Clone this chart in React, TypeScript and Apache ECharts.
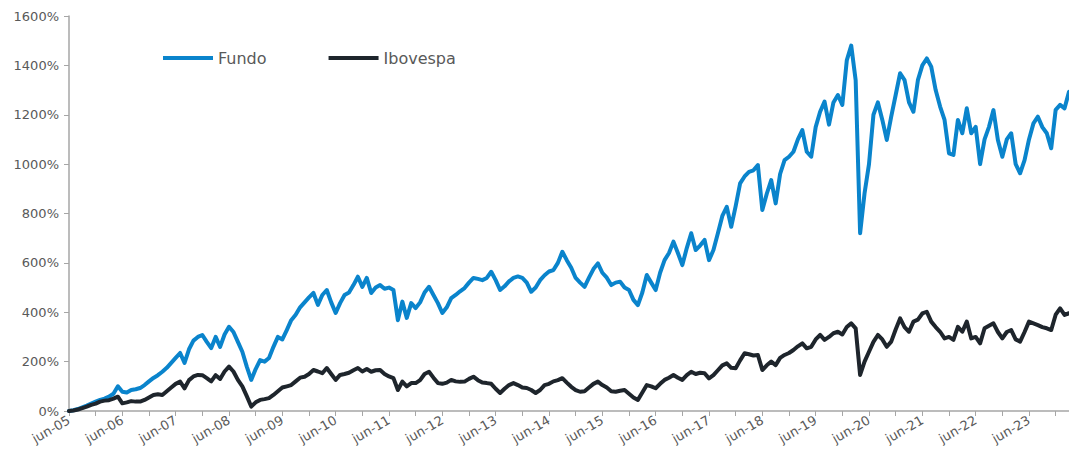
import React, { useEffect, useRef } from "react";
import * as echarts from "echarts";

// monthly values, month 0 = jun-05
const fundo: number[] = [
  0, 3, 8, 15, 22, 30, 38, 45, 50, 58, 70, 100,
  78, 75, 85, 88, 93, 105, 120, 134, 145, 159, 175, 195,
  215, 235, 195, 250, 285, 300, 308, 280, 255, 300, 260, 310,
  341, 320, 280, 240, 180, 126, 170, 206, 200, 215, 260, 300,
  290, 328, 368, 390, 420, 440, 460, 478, 430, 470, 490, 440,
  397, 437, 470, 480, 510, 544, 503, 539, 478, 500, 510, 495,
  500, 490, 368, 443, 377, 437, 417, 440, 480, 503, 470, 437,
  397, 420, 457, 470, 485, 498, 520, 539, 535, 530, 539, 564,
  530, 490, 505, 525, 539, 545, 539, 520, 483, 500, 530, 550,
  565, 571, 600, 645, 611, 580, 539, 520, 503, 540, 575, 598,
  560, 540, 510, 520, 524, 500, 490, 450, 429, 480, 551, 520,
  490, 560, 611, 640, 686, 640, 591, 660, 720, 652, 670, 693,
  611, 652, 720, 790, 827, 746, 830, 922, 950, 969, 975, 996,
  814, 880, 935, 841, 960, 1016, 1030, 1050, 1100, 1138, 1050, 1030,
  1150, 1212, 1253, 1160, 1250, 1280, 1240, 1420, 1480, 1340, 720, 882,
  1000, 1200, 1250, 1179, 1098, 1192, 1280, 1368, 1340, 1250, 1212, 1340,
  1400, 1428, 1395, 1300, 1233, 1179, 1044, 1037, 1179, 1125, 1226, 1125,
  1151, 1000, 1100, 1151, 1219, 1098, 1030, 1100, 1125, 1000, 963, 1016,
  1100, 1165, 1192, 1150, 1125, 1064, 1220, 1240, 1226, 1293,
];

const ibovespa: number[] = [
  0, 2, 6, 12, 18, 25, 30, 38, 42, 44, 50, 58,
  31, 35, 40, 38, 38, 45, 55, 65, 68, 65, 80, 95,
  110, 119, 92, 125, 140, 146, 145, 133, 120, 145, 130, 160,
  180, 160, 126, 100, 60, 18, 35, 45, 48, 52, 65, 80,
  95, 100, 105, 120, 135, 139, 150, 166, 160, 153, 174, 150,
  126, 146, 150, 155, 165, 174, 160, 170, 159, 165, 166, 150,
  140, 133, 85, 119, 100, 113, 113, 125, 150, 159, 135, 113,
  110, 115, 126, 120, 118, 119, 130, 139, 125, 115, 113, 110,
  90, 73, 90, 105, 113, 105, 95, 93, 85, 73, 85, 105,
  110, 120, 125, 133, 115, 98, 85, 78, 80, 95, 110, 119,
  105, 95, 80, 78, 82, 85, 70, 55, 45, 75, 105, 100,
  92, 110, 126, 135, 146, 135, 126, 145, 159, 150, 155, 153,
  132, 145, 165, 185, 193, 175, 173, 205, 234, 230, 225, 227,
  166, 185, 200, 186, 215, 227, 235, 247, 262, 274, 254, 260,
  290, 308, 288, 300, 315, 321, 310, 340, 355, 335, 146, 200,
  240, 280, 308, 290, 260, 281, 330, 375, 340, 321, 362, 370,
  395, 402, 362, 340, 321, 294, 300, 288, 341, 321, 362, 294,
  300, 274, 335, 345, 355, 320, 294, 320, 328, 290, 281, 320,
  362, 355, 348, 340, 335, 328, 390, 416, 389, 396,
];

const seriesNames = ["Fundo", "Ibovespa"];
const yTicks = [0, 200, 400, 600, 800, 1000, 1200, 1400, 1600];

const monthLabel = (m: number) => {
  if (m % 12 !== 0) return "";
  const yy = 5 + m / 12;
  return "jun-" + (yy < 10 ? "0" + yy : String(yy));
};

export default function App() {
  const ref = useRef<HTMLDivElement>(null);
  useEffect(() => {
    if (!ref.current) return;
    const chart = echarts.init(ref.current, undefined, { renderer: "svg" });
    const font = "'DejaVu Sans', sans-serif";
    chart.setOption({
      animation: false,
      textStyle: { fontFamily: font },
      grid: { left: 69, right: 0, top: 16, bottom: 46, containLabel: false },
      legend: {
        left: 163,
        top: 50,
        padding: 0,
        itemWidth: 50,
        itemHeight: 4,
        itemGap: 62,
        icon: "rect",
        textStyle: { fontSize: 16, color: "#595959", fontFamily: font },
        data: seriesNames,
      },
      xAxis: {
        type: "value",
        min: 0,
        max: 225,
        interval: 6,
        splitLine: { show: false },
        axisLine: { lineStyle: { color: "#a6a6a6", width: 1.5 } },
        axisTick: { show: true, length: 5, lineStyle: { color: "#a6a6a6" } },
        axisLabel: {
          rotate: 30,
          color: "#595959",
          fontSize: 13,
          margin: 8,
          showMaxLabel: false,
          formatter: (v: number) => monthLabel(v),
        },
      },
      yAxis: {
        type: "value",
        min: yTicks[0],
        max: yTicks[yTicks.length - 1],
        interval: 200,
        splitLine: { show: false },
        axisLine: { show: true, lineStyle: { color: "#a6a6a6", width: 1.5 } },
        axisTick: { show: true, length: 5, lineStyle: { color: "#a6a6a6" } },
        axisLabel: {
          color: "#595959",
          fontSize: 13,
          margin: 10,
          formatter: (v: number) => v + "%",
        },
      },
      series: [
        {
          name: seriesNames[0],
          type: "line",
          data: fundo.map((v, i) => [i, v]),
          showSymbol: false,
          lineStyle: { color: "#0a84cc", width: 4, join: "round", cap: "round" },
          itemStyle: { color: "#0a84cc" },
          z: 2,
        },
        {
          name: seriesNames[1],
          type: "line",
          data: ibovespa.map((v, i) => [i, v]),
          showSymbol: false,
          lineStyle: { color: "#1e252c", width: 4, join: "round", cap: "round" },
          itemStyle: { color: "#1e252c" },
          z: 3,
        },
      ],
    });
    return () => chart.dispose();
  }, []);
  return (
    <div
      ref={ref}
      style={{ position: "absolute", left: 0, top: 0, width: 1069, height: 457 }}
    />
  );
}
